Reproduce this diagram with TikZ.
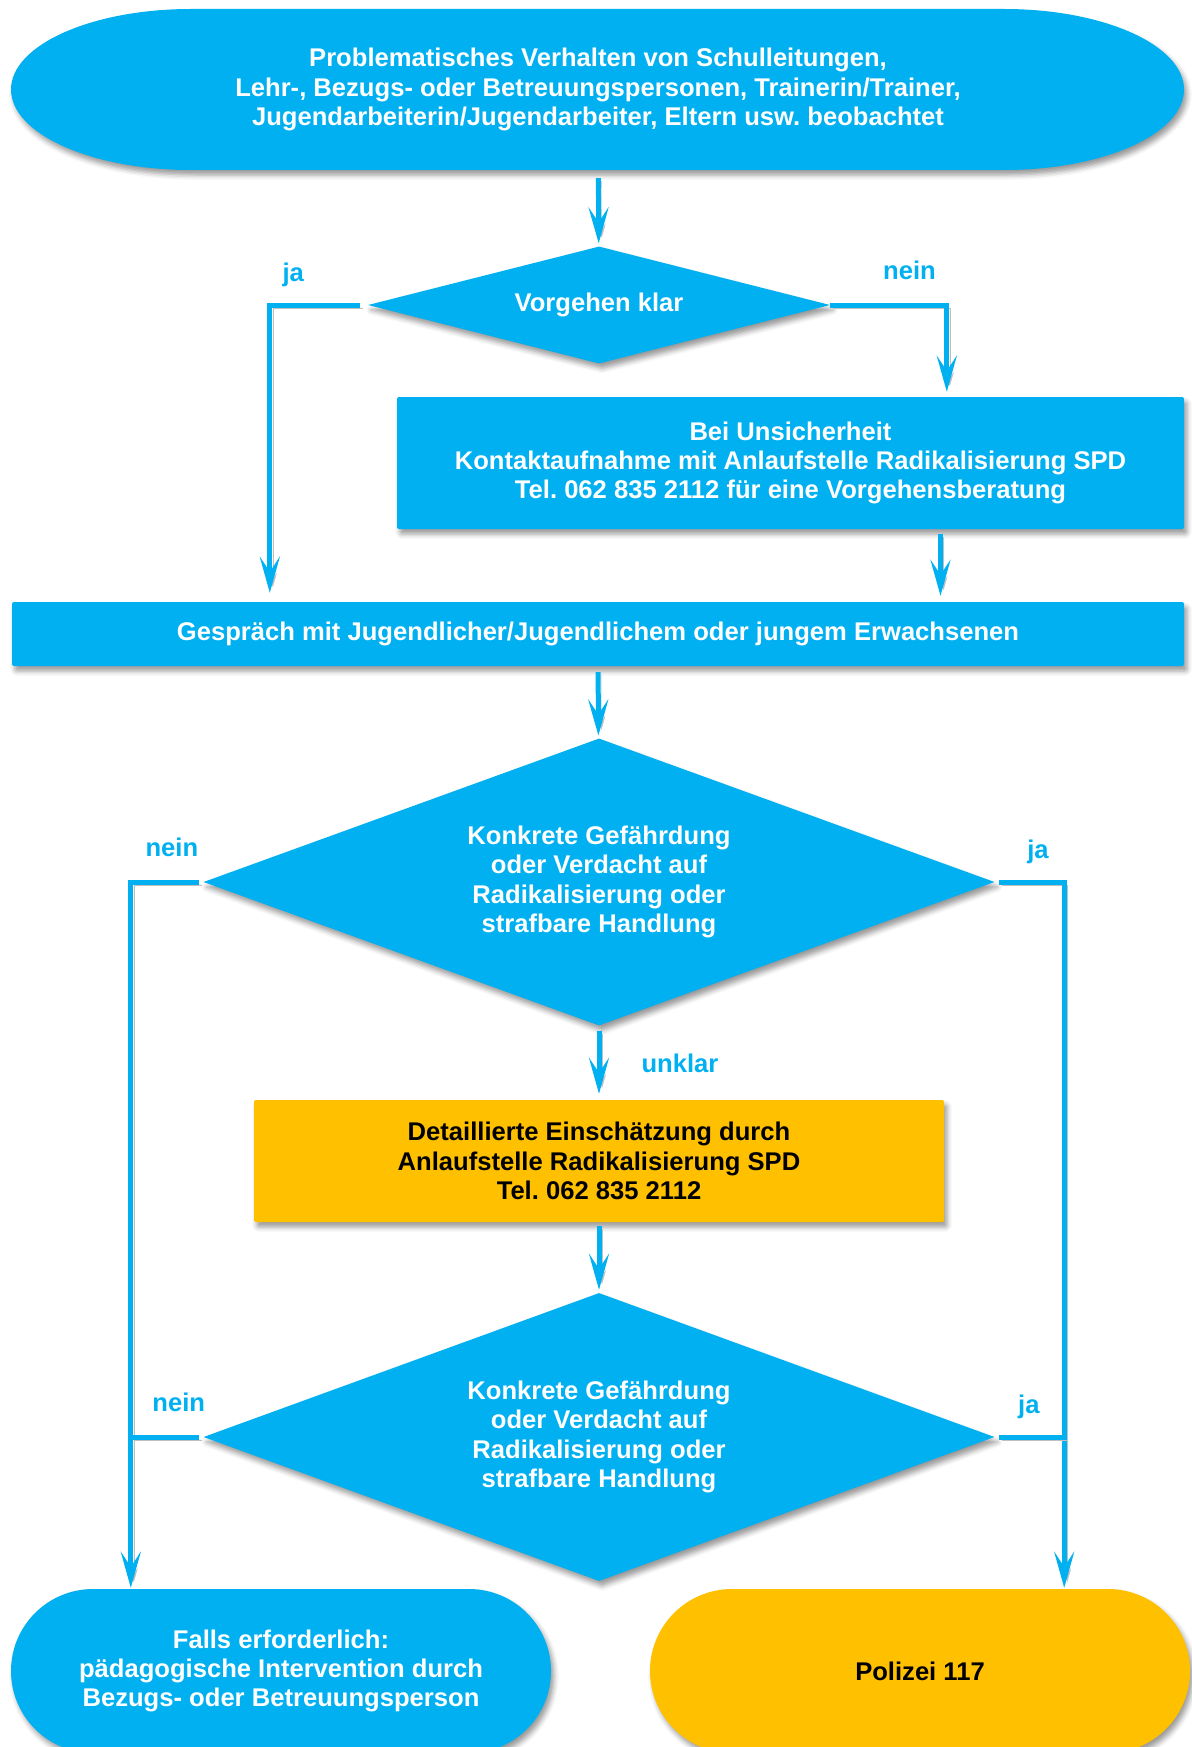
\documentclass[tikz,border=0pt]{standalone}
\usepackage{fontspec}
\setmainfont{Liberation Sans}
\usetikzlibrary{shapes.geometric, arrows.meta, shadows.blur}

\definecolor{hellblau}{HTML}{00B0F0}
\definecolor{gelborange}{HTML}{FFC000}
\frenchspacing

\begin{document}
\begin{tikzpicture}[x=1pt, y=-1pt,
  font=\fontsize{25.6}{29.3}\selectfont\bfseries,
  schatten/.style={blur shadow={shadow xshift=3pt, shadow yshift=-5pt, shadow blur radius=5pt, shadow opacity=40}},
  kasten/.style={rectangle, rounded corners=2pt, fill=hellblau, text=white, align=center, inner sep=0pt, schatten},
  raute/.style={diamond, fill=hellblau, text=white, align=center, inner sep=0pt, schatten},
  ende/.style={rectangle, rounded corners=82pt, align=center, inner sep=0pt, minimum width=540pt, minimum height=164pt, schatten},
  linie/.style={draw=hellblau, line width=5pt, preaction={draw=black!25, transform canvas={xshift=3pt, yshift=-3pt}}},
  pfeil/.style={linie, -{Stealth[length=36pt, width=20pt, inset=15pt]}},
  antwort/.style={text=hellblau, inner sep=0pt, text depth=0pt}
]
\useasboundingbox (0,0) rectangle (1191,1747);

% Beobachtung
\fill[hellblau, schatten] (191,9) -- (1004,9)
  arc[start angle=-90, end angle=90, x radius=180, y radius=80.5] -- (191,170)
  arc[start angle=90, end angle=270, x radius=180, y radius=80.5] -- cycle;
\node[text=white, align=center, minimum width=1173pt, minimum height=161pt] (start) at (598,89.5)
  {Problematisches Verhalten von Schulleitungen,\\ Lehr-, Bezugs- oder Betreuungspersonen, Trainerin/Trainer,\\ Jugendarbeiterin/Jugendarbeiter, Eltern usw. beobachtet};

% Erste Entscheidung
\node[raute, shape aspect=4, minimum width=462pt, minimum height=117pt] (klar) at (599,305) {Vorgehen klar};
\node[kasten, minimum width=787pt, minimum height=132pt] (unsicher) at (790.5,463)
  {Bei Unsicherheit\\ Kontaktaufnahme mit Anlaufstelle Radikalisierung SPD\\ Tel. 062 835 2112 für eine Vorgehensberatung};
\node[kasten, minimum width=1172pt, minimum height=64pt] (gespraech) at (598,634)
  {Gespräch mit Jugendlicher/Jugendlichem oder jungem Erwachsenen};

% Einschaetzung
\node[raute, shape aspect=2.75, minimum width=791pt, minimum height=287pt] (gefahr) at (599,882)
  {Konkrete Gefährdung\\ oder Verdacht auf\\ Radikalisierung oder\\ strafbare Handlung};
\node[kasten, fill=gelborange, text=black, minimum width=690pt, minimum height=122pt] (detail) at (599,1161)
  {Detaillierte Einschätzung durch\\ Anlaufstelle Radikalisierung SPD\\ Tel. 062 835 2112};
\node[raute, shape aspect=2.75, minimum width=791pt, minimum height=288pt] (gefahrB) at (599,1437)
  {Konkrete Gefährdung\\ oder Verdacht auf\\ Radikalisierung oder\\ strafbare Handlung};

% Ergebnisse
\node[ende, fill=hellblau, text=white] (intervention) at (281,1671)
  {Falls erforderlich:\\ pädagogische Intervention durch\\ Bezugs- oder Betreuungsperson};
\node[ende, fill=gelborange, text=black] (polizei) at (920,1671) {Polizei 117};

\coordinate (linksX) at ([xshift=120pt]intervention.north west);
\coordinate (rechtsX) at ([xshift=-126pt]polizei.north east);
\coordinate (unsicherAus) at ([xshift=150pt]unsicher.south);

% Verbindungen
\draw[pfeil, shorten <=8pt, shorten >=3pt] (start) -- (klar);
\draw[pfeil, shorten >=9pt] ([xshift=-8pt]klar.west) -| ([xshift=258pt]gespraech.north west)
  node[antwort, pos=.37, above=21pt] {ja};
\draw[pfeil, shorten >=5pt] (klar.east) -| ([xshift=550pt]unsicher.north west)
  node[antwort, pos=.34, above=23pt] {nein};
\draw[pfeil, shorten <=5pt, shorten >=6pt] (unsicherAus) -- (unsicherAus |- gespraech.north);
\draw[pfeil, shorten <=6pt, shorten >=3pt] (gespraech) -- (gefahr);
\draw[pfeil, shorten >=1pt] ([xshift=-4pt]gefahr.west) -| (linksX)
  node[antwort, pos=.2, above=23pt] {nein};
\draw[pfeil, shorten >=1pt] ([xshift=4pt]gefahr.east) -| (rechtsX)
  node[antwort, pos=.3, above=21pt] {ja};
\draw[pfeil, shorten <=5pt, shorten >=6pt] (gefahr) -- (detail)
  node[antwort, midway, right=40pt] {unklar};
\draw[pfeil, shorten <=4pt, shorten >=3pt] (detail) -- (gefahrB);
\draw[linie] ([xshift=-4pt]gefahrB.west) -- (gefahrB.west -| linksX)
  node[antwort, pos=.3, above=23pt] {nein};
\draw[linie] ([xshift=4pt]gefahrB.east) -- (gefahrB.east -| rechtsX)
  node[antwort, pos=.46, above=21pt] {ja};
\end{tikzpicture}
\end{document}
